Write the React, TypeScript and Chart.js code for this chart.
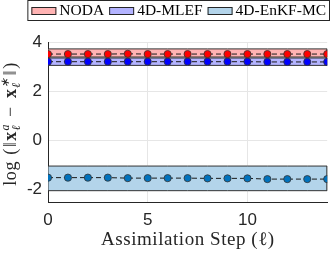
import React, { useEffect, useRef } from "react";
import { Chart, registerables } from "chart.js";

Chart.register(...registerables);

// ---- data ----
const steps = [0, 1, 2, 3, 4, 5, 6, 7, 8, 9, 10, 11, 12, 13, 14];
const seriesLabels = ["NODA", "4D-MLEF", "4D-EnKF-MC"];

const nodaMean = [3.51, 3.51, 3.51, 3.51, 3.52, 3.51, 3.51, 3.51, 3.51, 3.51, 3.51, 3.51, 3.51, 3.51, 3.51];
const mlefMean = [3.2, 3.2, 3.2, 3.2, 3.2, 3.2, 3.2, 3.2, 3.2, 3.2, 3.2, 3.19, 3.19, 3.19, 3.19];
const enkfMean = [-1.51, -1.51, -1.51, -1.51, -1.53, -1.53, -1.53, -1.53, -1.54, -1.54, -1.54, -1.57, -1.57, -1.57, -1.57];

const nodaUpper = [3.72, 3.72, 3.72, 3.72, 3.72, 3.72, 3.72, 3.72, 3.72, 3.72, 3.72, 3.72, 3.72, 3.72, 3.72];
const nodaLower = [3.39, 3.39, 3.39, 3.39, 3.39, 3.39, 3.39, 3.39, 3.39, 3.39, 3.39, 3.39, 3.39, 3.39, 3.39];
const mlefUpper = [3.35, 3.35, 3.35, 3.35, 3.35, 3.35, 3.35, 3.35, 3.35, 3.35, 3.35, 3.35, 3.35, 3.35, 3.35];
const mlefLower = [3.05, 3.05, 3.05, 3.05, 3.05, 3.05, 3.05, 3.05, 3.05, 3.05, 3.05, 3.05, 3.05, 3.05, 3.05];
const enkfUpper = [-1.04, -1.04, -1.04, -1.04, -1.04, -1.04, -1.04, -1.04, -1.04, -1.04, -1.04, -1.04, -1.04, -1.04, -1.04];
const enkfLower = [-2.04, -2.04, -2.04, -2.04, -2.04, -2.04, -2.04, -2.04, -2.04, -2.04, -2.04, -2.04, -2.04, -2.04, -2.04];

const xTicks = [0, 5, 10];
const yTicks = [-2, 0, 2, 4];
const xRange = [0, 14];
const yRange = [-2.5, 4];

const xTitle = "Assimilation Step (\u2113)";

// ---- styles ----
const markerColors = ["#ff0000", "#0000ff", "#0072bd"];
const bandColors = ["#ffb3b3", "#b3b3ff", "#b3d4ea"];
const inkColor = "#262626";
const serif = "'Liberation Serif', serif";
const sans = "'Liberation Sans', Arial, sans-serif";

function meanPoints(vals: number[]) {
  return steps.map((x, i) => ({ x, y: vals[i] }));
}

function bandPolygon(up: number[], lo: number[]) {
  const top = steps.map((x, i) => ({ x, y: up[i] }));
  const bottom = steps
    .map((x, i) => ({ x, y: lo[i] }))
    .reverse();
  return [...top, ...bottom, { x: steps[0], y: up[0] }];
}

function drawSpaced(ctx: CanvasRenderingContext2D, text: string, x: number, y: number, spacing: number) {
  // draws text char by char with extra spacing, returns advance
  let px = x;
  for (const ch of Array.from(text)) {
    ctx.fillText(ch, px, y);
    px += ctx.measureText(ch).width + spacing;
  }
  return px - x;
}
function measureSpaced(ctx: CanvasRenderingContext2D, text: string, spacing: number) {
  let w = 0;
  for (const ch of Array.from(text)) w += ctx.measureText(ch).width + spacing;
  return w;
}

const decorPlugin = {
  id: "decor",
  afterDraw(chart: any) {
    const ctx: CanvasRenderingContext2D = chart.ctx;
    const ca = chart.chartArea;
    ctx.save();
    ctx.fillStyle = inkColor;

    // x title
    ctx.font = "19px 'Liberation Serif', serif";
    ctx.textAlign = "left";
    ctx.textBaseline = "alphabetic";
    const sp = 0.55;
    const xw = measureSpaced(ctx, xTitle, sp) - sp;
    drawSpaced(ctx, xTitle, (ca.left + ca.right) / 2 - xw / 2, 245, sp);

    // y title (rotated)
    const mainF = "18px 'Liberation Serif', serif";
    const boldF = "bold 18px 'Liberation Serif', serif";
    const scrF = "italic 12px 'Liberation Serif', serif";
    type Seg = { t?: string; f?: string; sub?: string; sup?: string; extra?: number };
    const segs: Seg[] = [
      { t: "log", f: mainF, extra: 1 },
      { t: " (", f: mainF, extra: 1 },
      { t: "\u2016", f: mainF, extra: 1 },
      { t: "x", f: boldF },
      { sub: "\u2113", sup: "a", extra: 2 },
      { t: " \u2212 ", f: mainF, extra: 3 },
      { t: "x", f: boldF },
      { sub: "\u2113", sup: "\u2217", extra: 2 },
      { t: "\u2016", f: mainF, extra: 1 },
      { t: ")", f: mainF },
    ];
    const widths = segs.map((s) => {
      if (s.t) {
        ctx.font = s.f!;
        return measureSpaced(ctx, s.t, 0.6) + (s.extra || 0);
      }
      ctx.font = scrF;
      return Math.max(ctx.measureText(s.sub!).width, ctx.measureText(s.sup!).width) + 1 + (s.extra || 0);
    });
    const total = widths.reduce((a, b) => a + b, 0);
    const cy = (ca.top + ca.bottom) / 2 + 2;
    ctx.translate(15.5, cy);
    ctx.rotate(-Math.PI / 2);
    ctx.textAlign = "left";
    let px = -total / 2;
    segs.forEach((s, i) => {
      if (s.t) {
        ctx.font = s.f!;
        drawSpaced(ctx, s.t, px, 0, 0.6);
      } else {
        ctx.font = scrF;
        ctx.fillText(s.sub!, px + 0.5, 4);
        ctx.fillText(s.sup!, px + 0.5, -7);
      }
      px += widths[i];
    });
    ctx.restore();

    // legend
    ctx.save();
    ctx.font = "15.5px 'Liberation Serif', serif";
    const boxW = 25;
    const boxH = 8;
    const gapBT = 3;
    const gapItem = 5;
    const textWs = seriesLabels.map((l) => ctx.measureText(l).width);
    const inner = textWs.reduce((a, w) => a + boxW + gapBT + w, 0) + gapItem * (seriesLabels.length - 1);
    const right = 330;
    const padX = 4;
    const left = right - inner - 2 * padX;
    ctx.fillStyle = "#ffffff";
    ctx.fillRect(left, 0, right - left, 21);
    ctx.strokeStyle = inkColor;
    ctx.lineWidth = 1;
    ctx.strokeRect(left + 0.5, 0.5, right - left - 1, 20);
    let lx = left + padX;
    seriesLabels.forEach((l, i) => {
      ctx.fillStyle = bandColors[i];
      ctx.fillRect(lx, 7, boxW, boxH);
      ctx.strokeStyle = inkColor;
      ctx.strokeRect(lx + 0.5, 7.5, boxW - 1, boxH - 1);
      ctx.fillStyle = "#000000";
      ctx.textAlign = "left";
      ctx.textBaseline = "alphabetic";
      ctx.fillText(l, lx + boxW + gapBT, 15);
      lx += boxW + gapBT + textWs[i] + gapItem;
    });
    ctx.restore();
  },
};

export default function App() {
  const canvasRef = useRef<HTMLCanvasElement | null>(null);

  useEffect(() => {
    if (!canvasRef.current) return;
    const means = [nodaMean, mlefMean, enkfMean];
    const uppers = [nodaUpper, mlefUpper, enkfUpper];
    const lowers = [nodaLower, mlefLower, enkfLower];

    const lineSets = seriesLabels.map((label, i) => ({
      label,
      data: meanPoints(means[i]),
      borderColor: "#1a1a1a",
      borderWidth: 1,
      borderDash: [5, 3],
      pointRadius: 3.6,
      pointBackgroundColor: markerColors[i],
      pointBorderColor: "#333333",
      pointBorderWidth: 0.8,
      fill: false,
      tension: 0,
      order: 1,
    }));
    const bandSets = seriesLabels.map((label, i) => ({
      label: label + " band",
      data: bandPolygon(uppers[i], lowers[i]),
      borderColor: "#333333",
      borderWidth: 1,
      backgroundColor: bandColors[i],
      pointRadius: 0,
      fill: "shape",
      tension: 0,
      order: 2,
    }));

    const chart = new Chart(canvasRef.current, {
      type: "line",
      data: { datasets: [...lineSets, ...bandSets] as any },
      options: {
        animation: false,
        responsive: true,
        maintainAspectRatio: false,
        layout: { padding: { top: 42, right: 3, left: 0, bottom: 0 } },
        plugins: {
          legend: { display: false },
          tooltip: { enabled: false },
        },
        scales: {
          x: {
            type: "linear",
            min: xRange[0],
            max: xRange[1],
            afterBuildTicks: (s: any) => {
              s.ticks = xTicks.map((v) => ({ value: v }));
            },
            afterFit: (s: any) => {
              s.height = 51;
            },
            grid: { color: "#e6e6e6", drawTicks: false },
            border: { color: inkColor, width: 1 },
            ticks: {
              padding: 8,
              color: inkColor,
              maxRotation: 0,
              font: { family: sans, size: 17 },
            },
          },
          y: {
            type: "linear",
            min: yRange[0],
            max: yRange[1],
            afterBuildTicks: (s: any) => {
              s.ticks = yTicks.map((v) => ({ value: v }));
            },
            afterFit: (s: any) => {
              s.width = 48;
            },
            grid: { color: "#e6e6e6", drawTicks: false },
            border: { color: inkColor, width: 1 },
            ticks: {
              padding: 6,
              color: inkColor,
              font: { family: sans, size: 17 },
            },
          },
        },
      },
      plugins: [decorPlugin],
    });
    return () => chart.destroy();
  }, []);

  return (
    <div style={{ position: "fixed", left: 0, top: 0, width: 332, height: 253, background: "#fff" }}>
      <canvas ref={canvasRef} />
    </div>
  );
}
